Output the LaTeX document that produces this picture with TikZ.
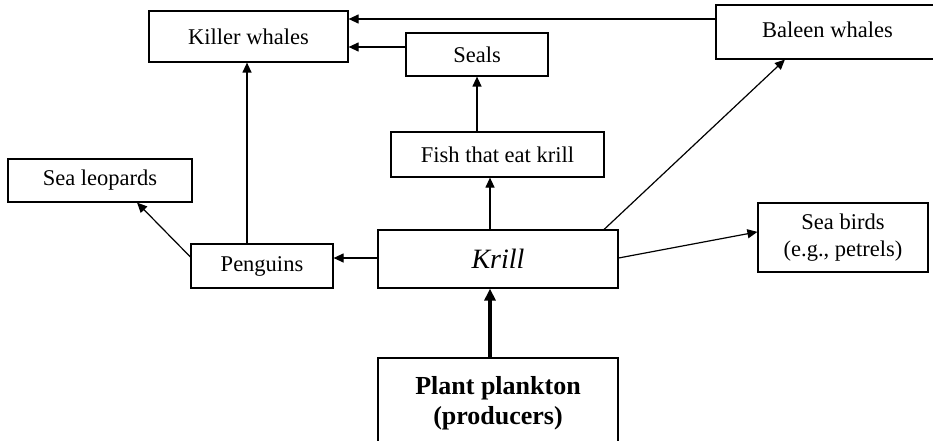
\documentclass[tikz,border=0pt]{standalone}
\usepackage{fontspec}
\setmainfont{Liberation Serif}
\usetikzlibrary{arrows.meta,calc}
\tikzset{
  box/.style={draw, line width=1.2pt, rectangle, inner sep=0pt, align=center,
    font=\fontsize{22.5}{27}\selectfont},
  arr/.style={line width=1.2pt, -{Triangle[length=10pt,width=9pt]}},
  thickarr/.style={line width=4pt, -{Triangle[length=12pt,width=11pt]}},
}
\begin{document}
\begin{tikzpicture}[x=1pt,y=-1pt]
\useasboundingbox[fill=white] (0,0) rectangle (933,441);
\node[box, minimum width=199pt, minimum height=51pt] (kw) at (248.5,36.5) {Killer whales};
\node[box, minimum width=142pt, minimum height=43pt] (seals) at (477,54.5) {Seals};
\node[box, minimum width=223pt, minimum height=54pt] (bw) at (827.5,32) {\raisebox{5pt}{Baleen whales}};
\node[box, minimum width=184pt, minimum height=43pt] (sl) at (100,180.5) {Sea leopards};
\node[box, minimum width=213pt, minimum height=45pt] (fish) at (497.5,154.5) {Fish that eat krill};
\node[box, minimum width=142pt, minimum height=44pt] (pen) at (262,266) {Penguins};
\node[box, minimum width=240pt, minimum height=58pt, font=\fontsize{28}{32}\selectfont\itshape] (krill) at (498,259) {Krill};
\node[box, minimum width=170pt, minimum height=69pt] (birds) at (843,237.5) {Sea birds\\(e.g., petrels)};
\node[box, minimum width=240pt, minimum height=90pt, font=\fontsize{26}{30}\selectfont\bfseries] (plant) at (498,403) {Plant plankton\\(producers)};
\coordinate (y1) at (0,19);
\coordinate (y2) at (0,47);
\coordinate (x1) at (247,0);
\coordinate (x2) at (490,0);
\coordinate (y3) at (0,258);
\draw[arr] (bw.west |- y1) -- (kw.east |- y1);
\draw[arr] (seals.west |- y2) -- (kw.east |- y2);
\draw[arr] (pen.north -| x1) -- (kw.south -| x1);
\draw[arr] (fish.north -| seals.south) -- (seals.south);
\draw[arr] (krill.north -| x2) -- (fish.south -| x2);
\draw[thickarr] (plant.north -| x2) -- (krill.south -| x2);
\draw[arr] (krill.west |- y3) -- (pen.east |- y3);
\draw[arr] ($(pen.north west)!0.3!(pen.south west)$) -- ($(sl.south west)!0.70!(sl.south east)$);
\draw[arr] ($(krill.north west)!0.94!(krill.north east)$) -- ($(bw.south west)!0.31!(bw.south east)$);
\draw[arr] (krill.east |- y3) -- ($(birds.north west)!0.42!(birds.south west)$);
\end{tikzpicture}
\end{document}
